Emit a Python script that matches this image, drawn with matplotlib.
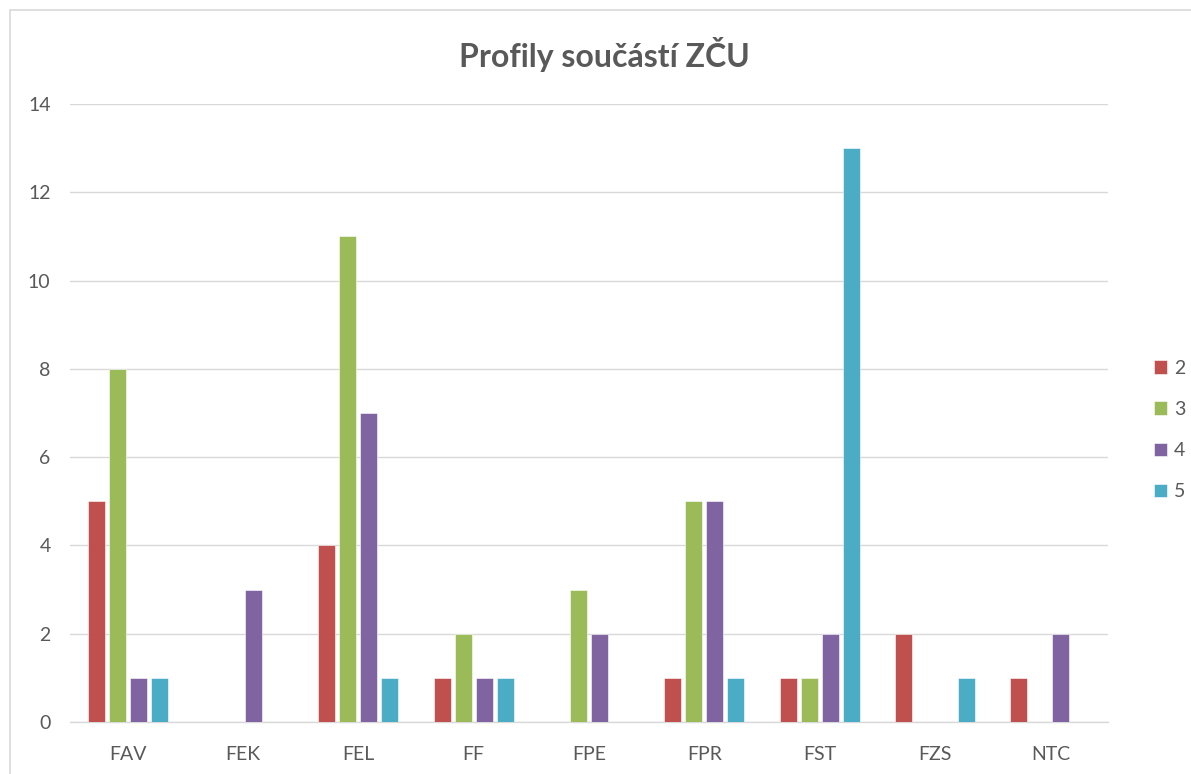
import matplotlib
matplotlib.use("Agg")
import matplotlib.pyplot as plt
from matplotlib.patches import Rectangle
import numpy as np

categories = ["FAV", "FEK", "FEL", "FF", "FPE", "FPR", "FST", "FZS", "NTC"]
series_names = ["2", "3", "4", "5"]
s2 = [5, 0, 4, 1, 0, 1, 1, 2, 1]
s3 = [8, 0, 11, 2, 3, 5, 1, 0, 0]
s4 = [1, 3, 7, 1, 2, 5, 2, 0, 2]
s5 = [1, 0, 1, 1, 0, 1, 13, 1, 0]
yticks = [0, 2, 4, 6, 8, 10, 12, 14]
colors = ["#C0504D", "#9BBB59", "#8064A2", "#4BACC6"]

plt.rcParams['font.family'] = ['Lato', 'DejaVu Sans']
text_color = "#595959"

fig = plt.figure(figsize=(11.91, 7.74), dpi=100)
fig.patches.append(Rectangle((10/1191, -0.1), 1.2, 1.1 - 10/774, transform=fig.transFigure,
                             fill=False, edgecolor="#D9D9D9", linewidth=1.2))
ax = fig.add_axes([70/1191, 1 - 722/774, (1108 - 70)/1191, (722 - 104)/774])

x = np.arange(len(categories))
slot = 0.182
width = 0.147
for i, (vals, name) in enumerate(zip([s2, s3, s4, s5], series_names)):
    ax.bar(x + (i - 1.5) * slot, vals, width=width, color=colors[i], label=name,
           edgecolor="white", linewidth=0.4, zorder=3)

ax.set_xlim(-0.5, len(categories) - 0.5)
ax.set_ylim(0, 14)
ax.set_yticks(yticks)
ax.set_xticks(x)
ax.set_xticklabels(categories)
ax.tick_params(axis='both', length=0, labelsize=14, colors=text_color)
ax.tick_params(axis='x', pad=17)
ax.tick_params(axis='y', pad=14)
ax.grid(axis='y', color="#D9D9D9", linewidth=1.0, zorder=0)
for sp in ["top", "right", "left"]:
    ax.spines[sp].set_visible(False)
ax.spines["bottom"].set_color("#D9D9D9")
ax.spines["bottom"].set_linewidth(1.0)

fig.text(604/1191, 1 - 54/774, "Profily součástí ZČU", ha="center", va="center",
         fontsize=23, fontweight="bold", color=text_color)

leg = fig.legend(loc="center left", bbox_to_anchor=(1136/1191, 1 - 430/774), frameon=False,
                 handlelength=0.7, handleheight=0.7, handletextpad=0.35, labelspacing=1.25,
                 fontsize=14)
for t in leg.get_texts():
    t.set_color(text_color)

fig.savefig("out.png", dpi=100)
